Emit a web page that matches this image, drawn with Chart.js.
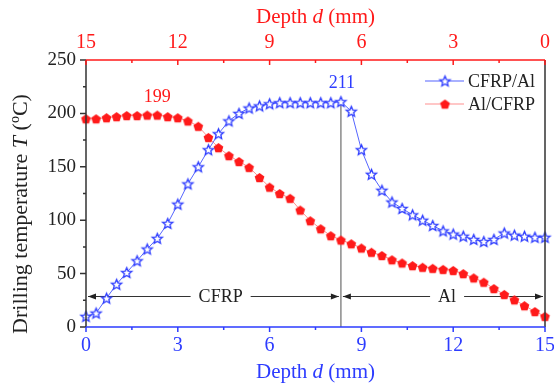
<!DOCTYPE html>
<html>
<head>
<meta charset="utf-8">
<script src="https://cdn.jsdelivr.net/npm/chart.js@4.4.0/dist/chart.umd.min.js"></script>
<style>
  body { margin: 0; background: #fff; }
  #wrap { width: 554px; height: 385px; position: relative; }
</style>
</head>
<body>
<div id="wrap"><canvas id="chart"></canvas></div>
<script>
// Drilling depth (mm), one sample every 1/3 mm
const depth = [0, 0.33, 0.67, 1, 1.33, 1.67, 2, 2.33, 2.67, 3, 3.33, 3.67, 4, 4.33, 4.67,
  5, 5.33, 5.67, 6, 6.33, 6.67, 7, 7.33, 7.67, 8, 8.33, 8.67, 9, 9.33, 9.67,
  10, 10.33, 10.67, 11, 11.33, 11.67, 12, 12.33, 12.67, 13, 13.33, 13.67, 14, 14.33, 14.67, 15];

// Drilling temperature (°C) for each stacking order
const cfrpAl = [10, 13, 27, 40, 51, 62, 73, 83, 97, 115, 134, 150, 166, 181, 193,
  200, 205, 207, 209, 210, 210, 210, 210, 210, 210, 211, 202, 166, 143, 128,
  117, 111, 105, 100, 95, 90, 87, 85, 82, 80, 82, 88, 86, 85, 84, 84];
const alCfrp = [195, 195, 196, 197, 198, 198, 198.5, 198.5, 197, 196, 193, 188, 177.5, 168, 160.5,
  155, 149.5, 140, 131, 125, 120.5, 109.5, 99.5, 92, 85.5, 81.5, 78, 74, 70, 67,
  63, 60, 57.5, 56, 55, 54, 53, 50, 46, 42, 36, 30.5, 25.5, 20, 14.5, 10];

// Tick positions
const xTicks = [0, 3, 6, 9, 12, 15];
const xMinor = [1.5, 4.5, 7.5, 10.5, 13.5];
const yTicks = [0, 50, 100, 150, 200, 250];
const yMinor = [25, 75, 125, 175, 225];

// Peak labels
const peakDepth = [2.33, 8.33];
const peakValue = [199, 211];
const peakText = ['199', '211'];

// Material regions (CFRP layer then Al layer)
const regionNames = ['CFRP', 'Al'];
const regionFrom = [0, 8.33];
const regionTo = [8.33, 15];
const regionLabelAt = [4.4, 11.8];
const arrowLevel = 29;
const interfaceDepth = 8.33;

const blue = '#2d3cff';
const blueLine = '#5565ff';
const red = '#ff1a1a';
const redLine = '#ff9090';
const serif = '"Liberation Serif", "Times New Roman", serif';

function font(size, style) {
    return (style || '') + ' ' + size + 'px ' + serif;
}

// Hollow five point star used for the CFRP/Al markers
function makeStar(r, color) {
    const c = document.createElement('canvas');
    const s = Math.ceil(r * 2 + 4);
    c.width = s; c.height = s;
    const g = c.getContext('2d');
    g.translate(s / 2, s / 2 + 0.5);
    g.beginPath();
    for (let k = 0; k < 10; k++) {
        const rr = k % 2 ? r * 0.45 : r;
        const a = -Math.PI / 2 + k * Math.PI / 5;
        g.lineTo(rr * Math.cos(a), rr * Math.sin(a));
    }
    g.closePath();
    g.fillStyle = '#fff';
    g.fill();
    g.strokeStyle = color;
    g.lineWidth = 1.3;
    g.stroke();
    return c;
}

// Filled pentagon used for the Al/CFRP markers
function makePentagon(r, color) {
    const c = document.createElement('canvas');
    const s = Math.ceil(r * 2 + 2);
    c.width = s; c.height = s;
    const g = c.getContext('2d');
    g.translate(s / 2, s / 2 + 0.5);
    g.beginPath();
    for (let k = 0; k < 5; k++) {
        const a = -Math.PI / 2 + k * 2 * Math.PI / 5;
        g.lineTo(r * Math.cos(a), r * Math.sin(a));
    }
    g.closePath();
    g.fillStyle = color;
    g.fill();
    return c;
}

const starImg = makeStar(5.4, blue);
const pentImg = makePentagon(5.1, red);

// Draw a line of text made of several styled pieces, centred on (cx, cy)
function drawRich(ctx, parts, cx, cy, color, rotate) {
    ctx.save();
    ctx.translate(cx, cy);
    if (rotate) ctx.rotate(-Math.PI / 2);
    let total = 0;
    parts.forEach(p => { ctx.font = p.font; total += ctx.measureText(p.text).width; });
    let px = -total / 2;
    ctx.fillStyle = color;
    ctx.textBaseline = 'middle';
    ctx.textAlign = 'left';
    parts.forEach(p => {
        ctx.font = p.font;
        ctx.fillText(p.text, px, p.dy || 0);
        px += ctx.measureText(p.text).width;
    });
    ctx.restore();
}

function arrowHead(ctx, tipX, yy, dir) {
    ctx.beginPath();
    ctx.moveTo(tipX, yy);
    ctx.lineTo(tipX - dir * 8, yy - 3);
    ctx.lineTo(tipX - dir * 8, yy + 3);
    ctx.closePath();
    ctx.fill();
}

const decor = {
    id: 'decor',
    beforeDatasetsDraw(chart) {
        const { ctx } = chart;
        const x = chart.scales.x, y = chart.scales.y;
        ctx.save();

        // Interface line between the two layers
        const xi = x.getPixelForValue(interfaceDepth);
        ctx.strokeStyle = '#8a8a8a';
        ctx.lineWidth = 1.5;
        ctx.beginPath();
        ctx.moveTo(xi, y.getPixelForValue(peakValue[1]));
        ctx.lineTo(xi, y.getPixelForValue(0));
        ctx.stroke();

        // Double arrows marking each layer
        ctx.font = font(18);
        ctx.strokeStyle = '#333';
        ctx.fillStyle = '#222';
        ctx.lineWidth = 1;
        const yy = Math.round(y.getPixelForValue(arrowLevel)) + 0.5;
        regionNames.forEach((name, i) => {
            const x1 = x.getPixelForValue(regionFrom[i]) + 2;
            const x2 = x.getPixelForValue(regionTo[i]) - 2;
            const xm = x.getPixelForValue(regionLabelAt[i]);
            const w = ctx.measureText(name).width;
            ctx.beginPath();
            ctx.moveTo(x1, yy); ctx.lineTo(xm - w / 2 - 8, yy);
            ctx.moveTo(xm + w / 2 + 8, yy); ctx.lineTo(x2, yy);
            ctx.stroke();
            arrowHead(ctx, x1, yy, -1);
            arrowHead(ctx, x2, yy, 1);
            ctx.textAlign = 'center';
            ctx.textBaseline = 'middle';
            ctx.fillText(name, xm, yy + 1);
        });
        ctx.restore();
    },
    afterDraw(chart) {
        const { ctx, chartArea: a } = chart;
        const x = chart.scales.x, y = chart.scales.y;
        ctx.save();
        ctx.lineWidth = 1.5;

        // Frame: left and right black, top red, bottom blue
        ctx.strokeStyle = '#333';
        ctx.beginPath();
        ctx.moveTo(a.left, a.top); ctx.lineTo(a.left, a.bottom);
        ctx.moveTo(a.right, a.top); ctx.lineTo(a.right, a.bottom);
        ctx.stroke();

        // Left ticks, pointing out
        ctx.beginPath();
        yTicks.forEach(v => { const p = y.getPixelForValue(v); ctx.moveTo(a.left - 6, p); ctx.lineTo(a.left, p); });
        yMinor.forEach(v => { const p = y.getPixelForValue(v); ctx.moveTo(a.left - 3, p); ctx.lineTo(a.left, p); });
        ctx.stroke();

        // Top axis (reversed depth), ticks pointing in
        ctx.strokeStyle = red;
        ctx.beginPath();
        ctx.moveTo(a.left, a.top); ctx.lineTo(a.right, a.top);
        xTicks.forEach(v => { const p = x.getPixelForValue(v); ctx.moveTo(p, a.top); ctx.lineTo(p, a.top + 5); });
        xMinor.forEach(v => { const p = x.getPixelForValue(v); ctx.moveTo(p, a.top); ctx.lineTo(p, a.top + 3); });
        ctx.stroke();

        // Bottom axis, ticks pointing out
        ctx.strokeStyle = blue;
        ctx.beginPath();
        ctx.moveTo(a.left, a.bottom); ctx.lineTo(a.right, a.bottom);
        xTicks.forEach(v => { const p = x.getPixelForValue(v); ctx.moveTo(p, a.bottom); ctx.lineTo(p, a.bottom + 5); });
        xMinor.forEach(v => { const p = x.getPixelForValue(v); ctx.moveTo(p, a.bottom); ctx.lineTo(p, a.bottom + 3); });
        ctx.stroke();

        // Axis titles with italic symbols
        const mid = (a.left + a.right) / 2;
        drawRich(ctx, [{ text: 'Depth ', font: font(21) }, { text: 'd', font: font(21, 'italic') }, { text: ' (mm)', font: font(21) }], mid, 372, blue);
        drawRich(ctx, [{ text: 'Depth ', font: font(21) }, { text: 'd', font: font(21, 'italic') }, { text: ' (mm)', font: font(21) }], mid, 17, red);
        drawRich(ctx, [{ text: 'Drilling temperature ', font: font(22) }, { text: 'T', font: font(22, 'italic') }, { text: ' (', font: font(22) },
            { text: 'o', font: font(14), dy: -6 }, { text: 'C)', font: font(22) }], 21, 214, '#222', true);

        // Peak values
        ctx.font = font(18);
        ctx.textAlign = 'center';
        ctx.textBaseline = 'middle';
        ctx.fillStyle = red;
        ctx.fillText(peakText[0], x.getPixelForValue(peakDepth[0]), y.getPixelForValue(peakValue[0]) - 17);
        ctx.fillStyle = blue;
        ctx.fillText(peakText[1], x.getPixelForValue(peakDepth[1]) + 1, y.getPixelForValue(peakValue[1]) - 18);

        // Legend in the top right corner
        const rows = [
            { label: chart.data.datasets[0].label, line: blueLine, img: starImg, y: 81 },
            { label: chart.data.datasets[1].label, line: redLine, img: pentImg, y: 104 }
        ];
        rows.forEach(r => {
            ctx.strokeStyle = r.line;
            ctx.lineWidth = 1.2;
            ctx.beginPath();
            ctx.moveTo(425, r.y); ctx.lineTo(464, r.y);
            ctx.stroke();
            ctx.drawImage(r.img, 445 - r.img.width / 2, r.y - r.img.height / 2);
            ctx.fillStyle = '#222';
            ctx.textAlign = 'left';
            ctx.font = font(18);
            ctx.fillText(r.label, 468, r.y + 1);
        });
        ctx.restore();
    }
};

function fixedTicks(list) {
    return scale => { scale.ticks = list.map(v => ({ value: v })); };
}

const ctx = document.getElementById('chart');

const chart = new Chart(ctx, {
    type: 'line',
    data: {
        datasets: [{
            label: 'CFRP/Al',
            data: depth.map((d, i) => ({ x: d, y: cfrpAl[i] })),
            borderColor: blueLine,
            borderWidth: 1,
            pointStyle: starImg,
            pointRadius: 5,
            tension: 0,
            clip: false,
            xAxisID: 'x',
            yAxisID: 'y'
        }, {
            label: 'Al/CFRP',
            data: depth.map((d, i) => ({ x: d, y: alCfrp[i] })),
            borderColor: redLine,
            borderWidth: 1,
            pointStyle: pentImg,
            pointRadius: 5,
            tension: 0,
            clip: false,
            xAxisID: 'x',
            yAxisID: 'y'
        }]
    },
    options: {
        responsive: true,
        maintainAspectRatio: false,
        animation: false,
        layout: { padding: { right: 9 } },
        plugins: {
            legend: { display: false },
            tooltip: { enabled: false }
        },
        scales: {
            x: {
                type: 'linear',
                position: 'bottom',
                min: 0,
                max: 15,
                afterBuildTicks: fixedTicks(xTicks),
                ticks: { color: blue, font: { family: serif, size: 20 }, padding: 7 },
                grid: { display: false, drawTicks: false },
                border: { display: false },
                afterFit: s => { s.height = 58; s.paddingLeft = 0; s.paddingRight = 0; }
            },
            x2: {
                type: 'linear',
                position: 'top',
                reverse: true,
                min: 0,
                max: 15,
                afterBuildTicks: fixedTicks(xTicks),
                ticks: { color: red, font: { family: serif, size: 20 }, padding: 5 },
                grid: { display: false, drawTicks: false },
                border: { display: false },
                afterFit: s => { s.height = 60; s.paddingLeft = 0; s.paddingRight = 0; }
            },
            y: {
                min: 0,
                max: 250,
                afterBuildTicks: fixedTicks(yTicks),
                ticks: { color: '#222', font: { family: serif, size: 19 }, padding: 10 },
                grid: { display: false, drawTicks: false },
                border: { display: false },
                afterFit: s => { s.width = 86; }
            }
        }
    },
    plugins: [decor]
});
</script>
</body>
</html>
